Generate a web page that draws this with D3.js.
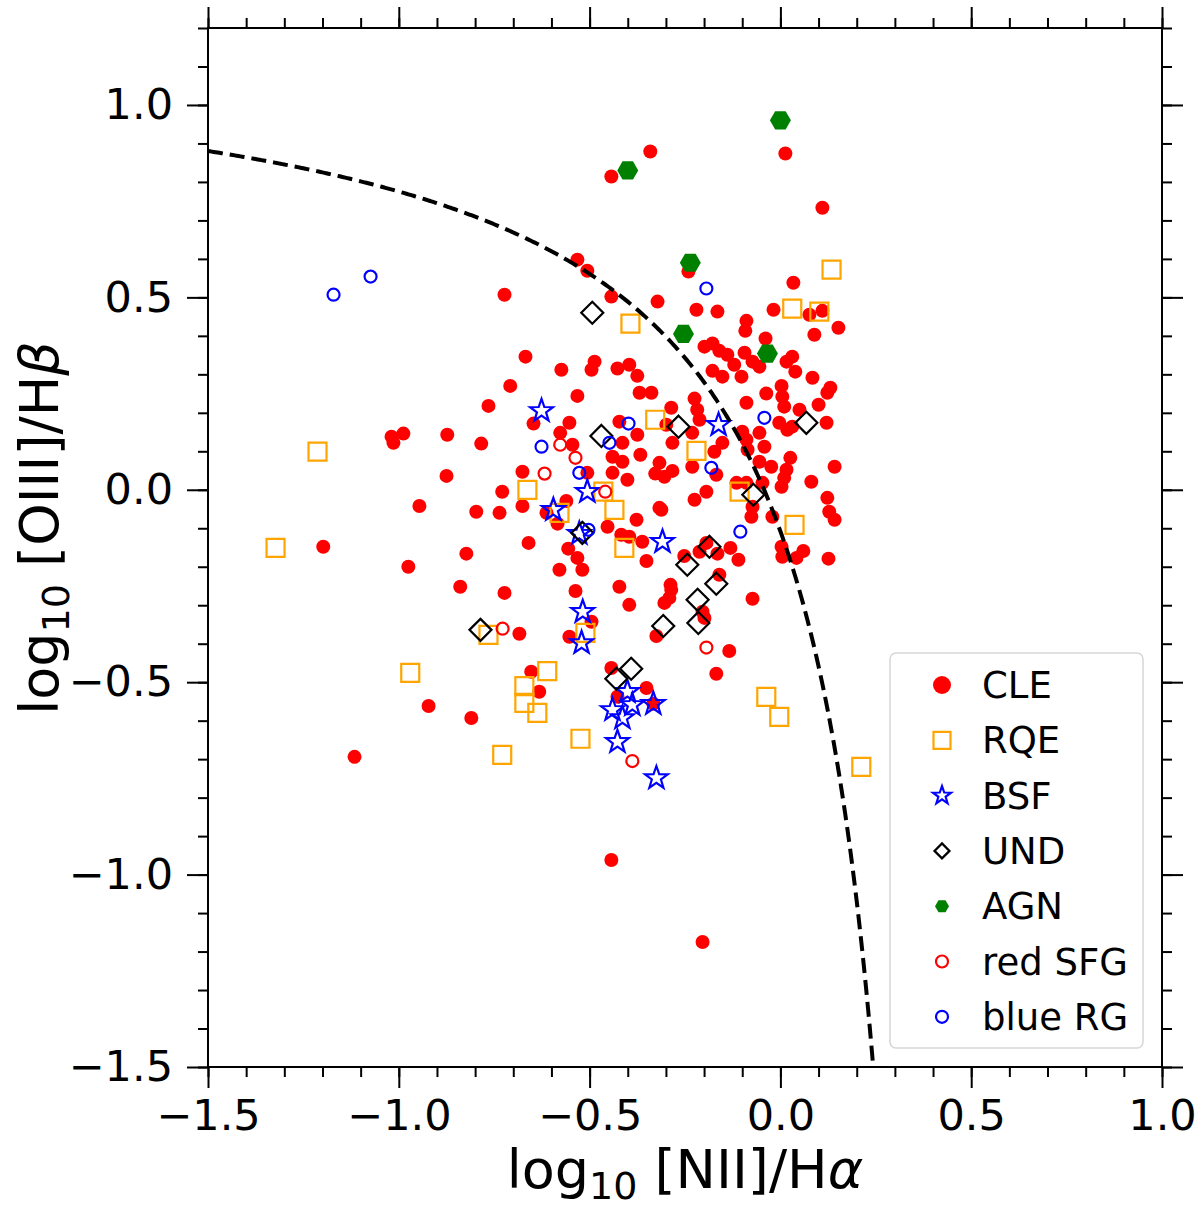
<!DOCTYPE html>
<html>
<head>
<meta charset="utf-8">
<script src="https://cdn.jsdelivr.net/npm/d3@7"></script>
<style>
  body { margin: 0; background: #fff; }
  svg { font-family: "DejaVu Sans", sans-serif; }
</style>
</head>
<body>
<svg id="drawing_region"></svg>
<script>
// [log NII/Ha, log OIII/Hb]
const clePoints = [
  [-0.341,0.879],[-0.443,0.814],[0.013,0.874],[0.110,0.733],[-0.532,0.598],[-0.506,0.569],[-0.241,0.567],
  [-0.723,0.507],[-0.443,0.502],[-0.322,0.489],[0.034,0.538],[-0.220,0.468],[-0.165,0.463],[-0.018,0.468],
  [0.076,0.455],[0.110,0.465],[0.089,0.403],[0.152,0.421],[-0.089,0.439],[-0.092,0.413],[-0.039,0.393],
  [-0.199,0.372],[-0.178,0.380],[-0.160,0.361],[-0.139,0.351],[-0.094,0.356],[-0.121,0.325],[-0.073,0.333],
  [-0.055,0.320],[-0.178,0.309],[-0.152,0.294],[-0.102,0.294],[0.016,0.333],[0.031,0.346],[0.039,0.307],
  [0.084,0.291],[0.003,0.270],[0.131,0.265],[0.123,0.252],[-0.037,0.250],[0.005,0.242],[-0.668,0.346],
  [-0.574,0.312],[-0.495,0.312],[-0.487,0.333],[-0.427,0.315],[-0.396,0.325],[-0.375,0.296],[-0.708,0.270],
  [-0.532,0.244],[-0.369,0.252],[-0.338,0.252],[-0.225,0.237],[0.010,0.216],[0.050,0.208],[0.100,0.221],
  [0.121,0.174],[-0.089,0.226],[-0.218,0.208],[-0.212,0.182],[-0.286,0.213],[-0.422,0.177],[-0.375,0.143],
  [-0.414,0.122],[-0.440,0.086],[-0.414,0.073],[-0.367,0.091],[-0.440,0.044],[-0.401,0.026],[-0.299,0.169],
  [-0.283,0.122],[-0.231,0.148],[-0.317,0.070],[-0.328,0.042],[-0.304,0.034],[-0.283,0.049],[-0.231,0.060],
  [-0.173,0.099],[-0.152,0.122],[-0.168,0.039],[-0.100,0.151],[-0.089,0.130],[-0.086,0.104],[-0.055,0.148],
  [-0.042,0.112],[-0.055,0.073],[-0.024,0.060],[-0.003,0.174],[0.018,0.156],[0.031,0.164],[0.026,0.083],
  [0.016,0.052],[0.010,0.031],[0.003,0.008],[0.081,0.021],[0.142,0.060],[0.123,-0.021],[0.128,-0.057],
  [0.142,-0.078],[-0.021,-0.070],[-0.115,0.018],[-0.089,0.018],[-0.047,0.018],[-0.073,-0.044],[-0.076,-0.070],
  [-0.194,-0.005],[-0.225,-0.026],[-0.317,-0.047],[-0.377,-0.078],[-0.765,0.218],[-0.553,0.174],[-0.647,0.172],
  [-0.577,0.148],[-0.545,0.117],[-1.019,0.138],[-0.988,0.146],[-1.014,0.122],[-0.873,0.143],[-0.784,0.120],
  [-0.875,0.036],[-0.676,0.047],[-0.506,0.044],[-0.729,-0.005],[-0.676,-0.042],[-0.561,-0.029],[-0.613,-0.060],
  [-0.584,-0.088],[-0.946,-0.042],[-0.797,-0.057],[-0.736,-0.060],[-0.453,-0.096],[-0.660,-0.138],[-0.556,-0.153],
  [-0.532,-0.177],[-0.823,-0.166],[-0.975,-0.200],[-0.579,-0.208],[-0.519,-0.208],[-0.839,-0.252],[-0.723,-0.268],
  [-0.537,-0.263],[-0.422,-0.252],[-0.495,-0.343],[-0.553,-0.382],[-0.684,-0.374],[-0.443,-0.463],[-0.653,-0.473],
  [-0.632,-0.525],[-0.427,-0.538],[-0.922,-0.562],[-0.810,-0.593],[-1.116,-0.694],[-0.417,-0.117],[-0.396,-0.122],
  [-0.362,-0.135],[-0.351,-0.185],[-0.312,-0.052],[-0.252,-0.172],[-0.212,-0.161],[-0.194,-0.138],[-0.165,-0.166],
  [-0.131,-0.151],[-0.110,-0.182],[0.003,-0.148],[0.005,-0.174],[0.042,-0.177],[0.060,-0.159],[0.126,-0.179],
  [-0.160,-0.221],[-0.288,-0.247],[-0.286,-0.260],[-0.291,-0.281],[-0.304,-0.294],[-0.396,-0.299],[-0.204,-0.317],
  [-0.199,-0.333],[-0.073,-0.283],[-0.325,-0.380],[-0.134,-0.419],[-0.168,-0.478],[-0.351,-0.515],[-0.333,-0.556],
  [-0.443,-0.962],[-0.204,-1.175],[-1.198,-0.148]
];
const rqePoints = [
  [0.134,0.572],[0.031,0.471],[0.102,0.463],[-0.393,0.432],[-0.328,0.182],[-0.220,0.101],[-0.107,-0.005],
  [0.037,-0.091],[-0.663,0.000],[-0.464,-0.005],[-0.435,-0.052],[-0.409,-0.151],[-0.579,-0.060],[-1.213,0.099],
  [-1.323,-0.151],[-0.970,-0.476],[-0.765,-0.377],[-0.611,-0.471],[-0.671,-0.510],[-0.671,-0.554],[-0.637,-0.580],
  [-0.524,-0.647],[-0.729,-0.689],[-0.511,-0.372],[-0.037,-0.538],[-0.003,-0.590],[0.212,-0.720]
];
const bsfPoints = [
  [-0.626,0.205],[-0.506,-0.005],[-0.595,-0.052],[-0.527,-0.114],[-0.162,0.169],[-0.309,-0.135],[-0.401,-0.525],
  [-0.388,-0.559],[-0.440,-0.572],[-0.414,-0.593],[-0.333,-0.556],[-0.427,-0.655],[-0.518,-0.317],[-0.521,-0.398],
  [-0.325,-0.749]
];
const undPoints = [
  [-0.493,0.460],[-0.469,0.140],[-0.519,-0.112],[-0.267,0.164],[0.068,0.174],[-0.071,-0.013],[-0.186,-0.148],
  [-0.244,-0.195],[-0.168,-0.244],[-0.217,-0.286],[-0.215,-0.346],[-0.307,-0.354],[-0.391,-0.465],[-0.430,-0.491],
  [-0.786,-0.364]
];
const agnPoints = [[0.000,0.960],[-0.400,0.830],[-0.236,0.590],[-0.254,0.405],[-0.034,0.354]];
const redSfgPoints = [
  [-0.577,0.117],[-0.537,0.083],[-0.618,0.042],[-0.459,-0.005],[-0.728,-0.361],[-0.194,-0.410],[-0.388,-0.705]
];
const blueRgPoints = [
  [-1.171,0.507],[-1.074,0.554],[-0.194,0.523],[-0.626,0.112],[-0.448,0.122],[-0.527,0.044],[-0.503,-0.104],
  [-0.398,0.172],[-0.042,0.187],[-0.181,0.057],[-0.105,-0.109]
];

const xTicks = [-1.5, -1.0, -0.5, 0.0, 0.5, 1.0];
const yTicks = [-1.5, -1.0, -0.5, 0.0, 0.5, 1.0];
const xDomain = [-1.5, 1.0];
const yDomain = [-1.5, 1.2];

// Kewley et al. (2001) maximum starburst line
const kewley = x => 0.61 / (x - 0.47) + 1.19;

const series = [
  { label: 'CLE',     data: clePoints,    shape: 'circle',  fill: 'red',   stroke: 'none',   r: 7,  lr: 9 },
  { label: 'RQE',     data: rqePoints,    shape: 'square',  fill: 'none',  stroke: 'orange', r: 9,  lr: 8.5 },
  { label: 'BSF',     data: bsfPoints,    shape: 'star',    fill: 'none',  stroke: 'blue',   r: 12, lr: 9.5 },
  { label: 'UND',     data: undPoints,    shape: 'diamond', fill: 'none',  stroke: 'black',  r: 11, lr: 7.5 },
  { label: 'AGN',     data: agnPoints,    shape: 'hexagon', fill: 'green', stroke: 'none',   r: 10.5, lr: 7 },
  { label: 'red SFG', data: redSfgPoints, shape: 'circle',  fill: 'none',  stroke: 'red',    r: 6,  lr: 6 },
  { label: 'blue RG', data: blueRgPoints, shape: 'circle',  fill: 'none',  stroke: 'blue',   r: 6,  lr: 6 }
];

function shapePath(shape, r) {
  const p = d3.path();
  if (shape === 'circle') {
    p.moveTo(r, 0); p.arc(0, 0, r, 0, 2 * Math.PI);
  } else if (shape === 'square') {
    p.rect(-r, -r, 2 * r, 2 * r);
  } else if (shape === 'diamond') {
    p.moveTo(0, -r); p.lineTo(r, 0); p.lineTo(0, r); p.lineTo(-r, 0); p.closePath();
  } else if (shape === 'hexagon') {
    for (let i = 0; i < 6; i++) {
      const a = i * Math.PI / 3;
      i === 0 ? p.moveTo(r * Math.cos(a), r * Math.sin(a)) : p.lineTo(r * Math.cos(a), r * Math.sin(a));
    }
    p.closePath();
  } else if (shape === 'star') {
    const ri = r * 0.4;
    for (let i = 0; i < 10; i++) {
      const a = -Math.PI / 2 + i * Math.PI / 5;
      const rr = i % 2 === 0 ? r : ri;
      i === 0 ? p.moveTo(rr * Math.cos(a), rr * Math.sin(a)) : p.lineTo(rr * Math.cos(a), rr * Math.sin(a));
    }
    p.closePath();
  }
  return p.toString();
}

class BptChart {
  constructor(config) {
    this.config = config;
    this.init();
  }

  init() {
    let self = this;
    const c = self.config;
    self.svg = d3.select(c.parent)
      .attr('width', c.width)
      .attr('height', c.height);

    self.xscale = d3.scaleLinear().domain(xDomain).range([c.left, c.right]);
    self.yscale = d3.scaleLinear().domain(yDomain).range([c.bottom, c.top]);

    self.svg.append('clipPath').attr('id', 'plot-clip')
      .append('rect')
      .attr('x', c.left).attr('y', c.top)
      .attr('width', c.right - c.left).attr('height', c.bottom - c.top);
  }

  render() {
    let self = this;
    const c = self.config;
    const fmt = d => d3.format('.1f')(d);
    const xMinor = d3.range(-15, 11).map(d => d / 10);
    const yMinor = d3.range(-15, 13).map(d => d / 10);

    const axes = [
      [d3.axisBottom, self.xscale, c.bottom, 'x', true],
      [d3.axisTop, self.xscale, c.top, 'x', false],
      [d3.axisLeft, self.yscale, c.left, 'y', true],
      [d3.axisRight, self.yscale, c.right, 'y', false]
    ];
    axes.forEach(([fn, scale, pos, dir, labels]) => {
      const tr = dir === 'x' ? `translate(0,${pos})` : `translate(${pos},0)`;
      const minor = self.svg.append('g').attr('transform', tr)
        .call(fn(scale).tickValues(dir === 'x' ? xMinor : yMinor).tickSize(10).tickFormat(''));
      const major = self.svg.append('g').attr('transform', tr)
        .call(fn(scale).tickValues(dir === 'x' ? xTicks : yTicks).tickSize(21)
          .tickPadding(dir === 'x' ? 11 : 14).tickFormat(labels ? fmt : ''));
      [minor, major].forEach(g => {
        g.select('.domain').remove();
        g.selectAll('line').attr('stroke', 'black').attr('stroke-width', 2);
      });
      major.selectAll('text').attr('font-size', 43).attr('fill', 'black')
        .attr('font-family', 'DejaVu Sans');
    });

    self.svg.append('rect')
      .attr('x', c.left).attr('y', c.top)
      .attr('width', c.right - c.left).attr('height', c.bottom - c.top)
      .attr('fill', 'none').attr('stroke', 'black').attr('stroke-width', 2);

    const plot = self.svg.append('g').attr('clip-path', 'url(#plot-clip)');
    series.forEach(s => {
      plot.append('g').selectAll('path')
        .data(s.data)
        .join('path')
        .attr('transform', d => `translate(${self.xscale(d[0])},${self.yscale(d[1])})`)
        .attr('d', shapePath(s.shape, s.r))
        .attr('fill', s.fill)
        .attr('stroke', s.stroke)
        .attr('stroke-width', s.stroke === 'none' ? 0 : 2.2);
    });

    // demarcation curve, drawn over the points
    const line = d3.line()
      .x(d => self.xscale(d))
      .y(d => self.yscale(kewley(d)));
    self.svg.append('path')
      .datum(d3.range(-1.5, 0.3, 0.005))
      .attr('clip-path', 'url(#plot-clip)')
      .attr('d', line)
      .attr('fill', 'none')
      .attr('stroke', 'black')
      .attr('stroke-width', 4)
      .attr('stroke-dasharray', '15,7');

    // legend
    const lg = self.svg.append('g');
    lg.append('rect')
      .attr('x', 890).attr('y', 653).attr('width', 253).attr('height', 395)
      .attr('rx', 6).attr('fill', 'white').attr('fill-opacity', 0.8)
      .attr('stroke', '#d6d6d6').attr('stroke-width', 1.5);
    series.forEach((s, i) => {
      const y = 685 + i * 55.3;
      lg.append('path')
        .attr('transform', `translate(942,${y})`)
        .attr('d', shapePath(s.shape, s.lr))
        .attr('fill', s.fill)
        .attr('stroke', s.stroke)
        .attr('stroke-width', s.stroke === 'none' ? 0 : 2.2);
      lg.append('text')
        .attr('x', 982).attr('y', y + 13)
        .attr('font-size', 37)
        .text(s.label);
    });

    // axis labels
    const xl = self.svg.append('text')
      .attr('x', (c.left + c.right) / 2).attr('y', 1188)
      .attr('text-anchor', 'middle').attr('font-size', 54);
    xl.append('tspan').text('log');
    xl.append('tspan').attr('font-size', 38).attr('dy', 11).text('10');
    xl.append('tspan').attr('dy', -11).text(' [NII]/H');
    xl.append('tspan').attr('font-style', 'italic').text('α');

    const yl = self.svg.append('text')
      .attr('transform', `translate(58,528) rotate(-90)`)
      .attr('text-anchor', 'middle').attr('font-size', 54);
    yl.append('tspan').text('log');
    yl.append('tspan').attr('font-size', 38).attr('dy', 11).text('10');
    yl.append('tspan').attr('dy', -11).text(' [OIII]/H');
    yl.append('tspan').attr('font-style', 'italic').text('β');
  }
}

const chart = new BptChart({
  parent: '#drawing_region',
  width: 1200, height: 1213,
  left: 208, right: 1162, top: 28, bottom: 1067
});
chart.render();
</script>
</body>
</html>
